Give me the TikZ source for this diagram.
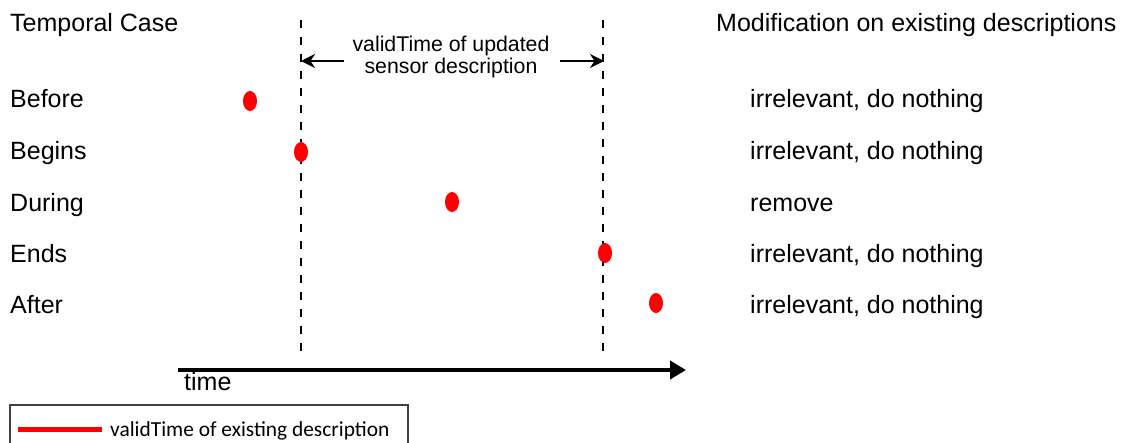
\documentclass[tikz,border=0pt]{standalone}
\usepackage{fontspec}
\setmainfont{Liberation Sans}
\newfontfamily\legendfont{Carlito}
\usetikzlibrary{shapes.geometric,arrows.meta}

\tikzset{
  lbl/.style={anchor=base west, inner sep=0pt, font=\fontsize{25}{28}\selectfont},
  midlbl/.style={align=center, inner sep=0pt, font=\fontsize{21.3}{21}\selectfont},
  bound/.style={line width=2.8pt, dash pattern=on 8pt off 9pt},
  dot/.style={ellipse, fill=red, minimum width=14pt, minimum height=20pt, inner sep=0pt},
  span/.style={line width=2.2pt, -{Stealth[length=14pt,width=14pt]}},
  axis/.style={line width=4.5pt, -{Triangle[length=16pt,width=18pt]}},
}

\begin{document}
\begin{tikzpicture}[x=1pt,y=-1pt]
\useasboundingbox (0,0) rectangle (1123,442);
\clip (0,0) rectangle (1123,442);
\fill[white] (0,0) rectangle (1123,442);

% column headings
\node[lbl] (hcase) at (10,31) {Temporal Case};
\node[lbl] (hmod) at (716,31) {Modification on existing descriptions};

% temporal cases
\node[lbl] (cbefore) at (10,107) {Before};
\node[lbl] (cbegins) at (10,159) {Begins};
\node[lbl] (cduring) at (10,211) {During};
\node[lbl] (cends)   at (10,262) {Ends};
\node[lbl] (cafter)  at (10,313) {After};

% resulting modifications
\node[lbl] (mbefore) at (750,107) {irrelevant, do nothing};
\node[lbl] (mbegins) at (750,159) {irrelevant, do nothing};
\node[lbl] (mduring) at (750,211) {remove};
\node[lbl] (mends)   at (750,262) {irrelevant, do nothing};
\node[lbl] (mafter)  at (750,313) {irrelevant, do nothing};

% boundaries of the updated validTime
\coordinate (ltop) at (301,20);
\coordinate (lbot) at (301,356);
\coordinate (rtop) at (603,20);
\coordinate (rbot) at (603,356);
\draw[bound] (ltop) -- (lbot);
\draw[bound] (rtop) -- (rbot);

\node[midlbl] (upd) at (451,57) {validTime of updated\\[1pt]sensor description};
\coordinate (larr) at (301,61);
\coordinate (rarr) at (604,61);
\draw[span] (upd.west |- larr) ++(-8,0) -- (larr);
\draw[span] (upd.east |- rarr) ++(10,0) -- (rarr);

% existing validTime instants
\node[dot] (pbefore) at (250,101) {};
\node[dot] (pbegins) at (301,152) {};
\node[dot] (pduring) at (452,202) {};
\node[dot] (pends)   at (605,253) {};
\node[dot] (pafter)  at (656,303) {};

% time axis
\coordinate (tstart) at (178,370);
\coordinate (tend) at (686,370);
\draw[axis] (tstart) -- (tend);
\node[lbl] (tlabel) at (184,390) {time};

% legend
\coordinate (legnw) at (10,405);
\coordinate (legse) at (408,450);
\draw[draw=black!75, line width=1.3pt] (legnw) rectangle (legse);
\coordinate (legA) at (18,429);
\coordinate (legB) at (102,429);
\draw[red, line width=5pt] (legA) -- (legB);
\node[anchor=base west, inner sep=0pt, font=\legendfont\fontsize{21.4}{22}\selectfont] (legtext) at (110,436) {validTime of existing description};
\end{tikzpicture}
\end{document}
